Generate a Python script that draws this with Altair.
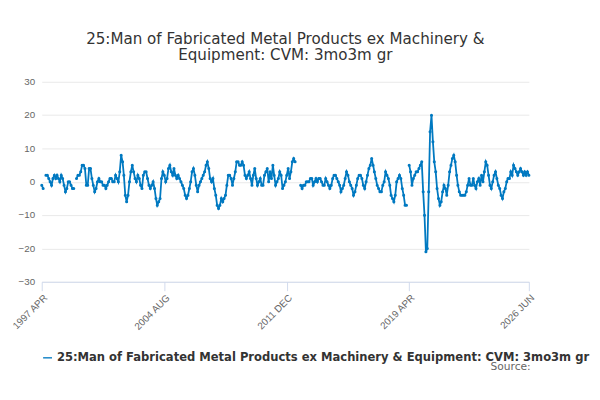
import altair as alt
import pandas as pd

N = None
y1997 = [-1,-2,N,2,2,1,0,-1,1]
y1998 = [2,1,2,1,0,2,1,-1,-3,-2,0,0]
y1999 = [-1,-2,-2,N,1,2,2,3,5,5,4,-1]
y2000 = [-1,4,4,1,-1,-3,-2,0,1,0,0,-1]
y2001 = [-1,-2,-1,0,1,1,0,0,2,1,0,3]
y2002 = [8,6,2,-4,-6,-4,0,3,5,3,1,0]
y2003 = [2,1,-1,-2,2,3,3,1,-1,-2,-1,0]
y2004 = [-2,-5,-7,-6,-5,1,3,2,0,1,4,5]
y2005 = [3,2,4,2,1,2,1,0,-1,-2,-4,-5]
y2006 = [-4,-2,0,3,4,2,-1,-3,-1,0,1,2]
y2007 = [3,5,6,4,1,0,1,-2,-4,-7,-8,-7]
y2008 = [-5,-6,-5,-4,-1,2,2,1,-1,1,3,6]
y2009 = [6,5,5,6,5,2,1,2,3,1,-1,2]
y2010 = [4,1,-1,0,1,-1,-1,2,3,4,0,3]
y2011 = [1,5,2,-1,0,1,3,2,-2,-1,0,2]
y2012 = [4,1,3,6,7,6,N,N,N,-1,-2,-1]
y2013 = [-1,0,0,0,1,1,-1,0,1,0,1,1]
y2014 = [0,-1,-1,1,0,-1,-2,-1,1,2,2,1]
y2015 = [0,-1,-3,-2,-1,1,3,2,0,-1,-2,-4]
y2016 = [-3,-1,1,2,2,1,-1,-2,0,2,4,5]
y2017 = [7,5,3,1,-1,-2,-3,-3,-1,0,3,2]
y2018 = [1,-1,-4,-5,-6,-4,0,1,2,1,-2,-4]
y2019 = [-7,-7,N,5,3,-1,1,2,3,3,4,5]
y2020 = [6,-3,-10,-21,-20,-3,15,20,12,6,3,-2]
y2021 = [-5,-7,-6,-3,-1,-2,-4,-1,3,5,7,8]
y2022 = [6,2,-1,-3,-4,-4,-4,-4,-3,-1,1,-1]
y2023 = [-1,1,-1,-2,0,1,-1,2,0,3,6,5]
y2024 = [2,-1,-2,0,2,3,1,-1,-2,-4,-5,-3]
y2025 = [-2,0,1,1,3,2,5,4,3,2,3,4]
y2026 = [3,2,3,2,3,2]

values = (y1997+y1998+y1999+y2000+y2001+y2002+y2003+y2004+y2005+y2006+y2007+y2008+
          y2009+y2010+y2011+y2012+y2013+y2014+y2015+y2016+y2017+y2018+y2019+y2020+
          y2021+y2022+y2023+y2024+y2025+y2026)
series = "25:Man of Fabricated Metal Products ex Machinery & Equipment: CVM: 3mo3m gr"
tick_dates = ["1997-04-01", "2004-08-01", "2011-12-01", "2019-04-01", "2026-06-01"]

dates = pd.date_range("1997-04-01", periods=len(values), freq="MS")
df = pd.DataFrame({"date": dates, "value": values, "series": series})

color = alt.Color("series:N", scale=alt.Scale(range=["#0079c1"]),
                  legend=alt.Legend(orient="bottom", title=None, labelFontSize=13,
                                    labelFont="DejaVu Sans", labelFontWeight="bold", labelColor="#333",
                                    labelLimit=600, symbolType="stroke", offset=22))

base = alt.Chart(df).encode(
    x=alt.X("date:T", title=None,
            scale=alt.Scale(domain=["1997-04-01", "2026-06-01"]),
            axis=alt.Axis(values=tick_dates, labelExpr="upper(timeFormat(datum.value, '%Y %b'))",
                          labelAngle=-45, labelAlign="right", labelColor="#666", labelFontSize=11,
                          grid=False, domainColor="#ccd6eb", tickColor="#ccd6eb", tickSize=10)),
    y=alt.Y("value:Q", title=None, scale=alt.Scale(domain=[-30, 30]),
            axis=alt.Axis(values=[-30, -20, -10, 0, 10, 20, 30], labelColor="#666", labelFontSize=11,
                          gridColor="#e6e6e6", domain=False, ticks=False, labelPadding=8)),
    color=color,
)
line = base.mark_line(strokeWidth=2)
pts = base.mark_point(filled=True, size=12, opacity=1)

src = alt.Chart(pd.DataFrame({"t": ["Source:"]})).mark_text(
    align="right", fontSize=12, color="#666", font="DejaVu Sans"
).encode(x=alt.value(550), y=alt.value(320), text="t:N")

chart = alt.layer(line, pts, src).properties(
    width=548, height=225,
    title=alt.TitleParams(["25:Man of Fabricated Metal Products ex Machinery &", "Equipment: CVM: 3mo3m gr"],
                          fontSize=17, fontWeight="normal", font="DejaVu Sans", color="#333",
                          anchor="middle", offset=14),
    padding={"left": 2, "top": 2, "right": 2, "bottom": 0},
).configure_view(stroke=None)

chart.save("out.html", embed_options={"renderer": "svg", "actions": False})
